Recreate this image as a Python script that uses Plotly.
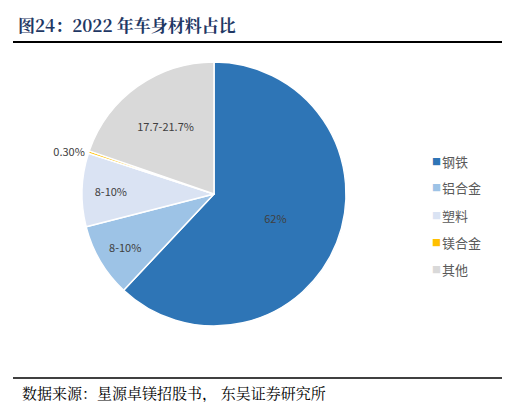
import plotly.graph_objects as go

categories = ["钢铁", "铝合金", "塑料", "镁合金", "其他"]
values = [62, 9, 9, 0.3, 19.7]
label_texts = ["62%", "8-10%", "8-10%", "0.30%", "17.7-21.7%"]
colors = ["#2E75B6", "#9DC3E6", "#DAE3F3", "#FFC000", "#D9D9D9"]

W, H = 510, 402
font = "Noto Sans CJK SC"

fig = go.Figure(go.Pie(
    labels=categories, values=values, text=label_texts,
    texttemplate="%{text}", textinfo="text",
    sort=False, direction="clockwise", rotation=0,
    marker=dict(colors=colors, line=dict(color="white", width=1.5)),
    textposition=["inside", "inside", "inside", "outside", "inside"],
    insidetextorientation="horizontal",
    textfont=dict(size=11, color="#404040", family=font),
    outsidetextfont=dict(size=11, color="#404040", family=font),
    domain=dict(x=[74 / W, 338 / W], y=[(H - 322) / H, (H - 50) / H]),
    showlegend=False, hoverinfo="skip",
))

anns = [dict(x=8 / W, y=1 - 17 / H, xref="paper", yref="paper", xanchor="left", yanchor="middle",
             text="<b>图24：2022 年车身材料占比</b>", showarrow=False,
             font=dict(size=17, color="#1F3864", family="Noto Serif CJK SC, " + font)),
        dict(x=12 / W, y=1 - 384 / H, xref="paper", yref="paper", xanchor="left", yanchor="middle",
             text="数据来源：星源卓镁招股书， 东吴证券研究所", showarrow=False,
             font=dict(size=15, color="#000000", family="Noto Serif CJK SC, " + font))]
for i, (c, col) in enumerate(zip(categories, colors)):
    yy = 1 - (153 + i * 27) / H
    anns.append(dict(x=422 / W, y=yy, xref="paper", yref="paper", xanchor="left", yanchor="middle",
                     text=f"<span style='color:{col}'>■</span>", showarrow=False,
                     font=dict(size=9, family=font)))
    anns.append(dict(x=432 / W, y=yy, xref="paper", yref="paper", xanchor="left", yanchor="middle",
                     text=c, showarrow=False, font=dict(size=13, color="#595959", family=font)))

fig.update_layout(
    width=W, height=H, margin=dict(l=0, r=0, t=0, b=0),
    paper_bgcolor="white", plot_bgcolor="white",
    annotations=anns,
    shapes=[dict(type="line", xref="paper", yref="paper", x0=5 / W, x1=505 / W, y0=1 - 34 / H, y1=1 - 34 / H,
                 line=dict(color="black", width=2)),
            dict(type="line", xref="paper", yref="paper", x0=5 / W, x1=505 / W, y0=1 - 370 / H, y1=1 - 370 / H,
                 line=dict(color="black", width=1.5))],
)
fig.write_html("out.html")
